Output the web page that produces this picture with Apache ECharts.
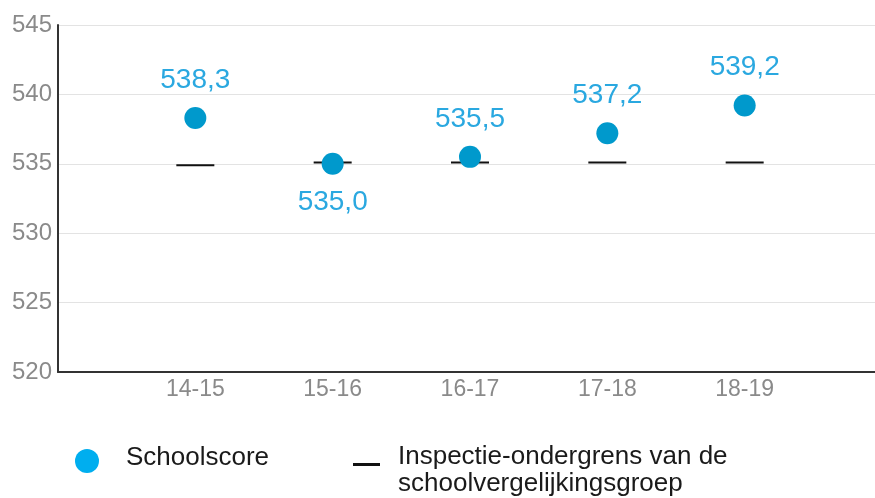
<!DOCTYPE html>
<html>
<head>
<meta charset="utf-8">
<script src="https://cdn.jsdelivr.net/npm/echarts@6/dist/echarts.min.js"></script>
<style>
html,body{margin:0;padding:0;background:#fff;}
#chart{width:875px;height:498px;}
</style>
</head>
<body>
<div id="chart"></div>
<script>
// Data
var categories = ['14-15', '15-16', '16-17', '17-18', '18-19'];
var schoolscore = [538.3, 535.0, 535.5, 537.2, 539.2];
var ondergrens = [534.9, 535.1, 535.1, 535.1, 535.1];
var yTicks = [520, 525, 530, 535, 540, 545];
var nameScore = 'Schoolscore';
var nameGrens = 'Inspectie-ondergrens van de schoolvergelijkingsgroep';

var axisData = [''].concat(categories).concat(['']);
var FONT = '"Liberation Sans", Arial, sans-serif';

function fmt(v) { return v.toFixed(1).replace('.', ','); }

var chart = echarts.init(document.getElementById('chart'), null, {renderer: 'canvas'});
var option = {
  animation: false,
  textStyle: {fontFamily: FONT},
  grid: {left: 58, top: 25, height: 347, width: 824, containLabel: false, outerBoundsMode: 'none'},
  xAxis: {
    type: 'category',
    data: axisData,
    boundaryGap: false,
    axisLine: {lineStyle: {color: '#333', width: 2}},
    axisTick: {show: false},
    axisLabel: {color: '#8a8a8a', fontSize: 23, margin: 6, fontFamily: FONT},
    splitLine: {show: false}
  },
  yAxis: {
    type: 'value',
    min: yTicks[0],
    max: yTicks[yTicks.length - 1],
    interval: yTicks[1] - yTicks[0],
    axisLine: {show: true, lineStyle: {color: '#333', width: 2}},
    axisTick: {show: false},
    axisLabel: {color: '#8a8a8a', fontSize: 24, margin: 6, fontFamily: FONT},
    splitLine: {lineStyle: {color: '#e3e3e3', width: 1}}
  },
  legend: [
    {
      left: 75, top: 445, padding: 0,
      selectedMode: false,
      icon: 'circle', itemWidth: 24, itemHeight: 24,
      data: [{name: nameScore, itemStyle: {color: '#00aeef', opacity: 1}}],
      formatter: function (n) { return '{a|' + n + '}\n{s| }'; },
      textStyle: {
        fontFamily: FONT, padding: [0, 0, 0, 22],
        rich: {
          a: {fontSize: 26, lineHeight: 26, color: '#1a1a1a', fontFamily: FONT},
          s: {fontSize: 1, lineHeight: 6}
        }
      }
    },
    {
      left: 353, top: 437, padding: 0,
      selectedMode: false,
      icon: 'rect', itemWidth: 27, itemHeight: 3,
      data: [{name: nameGrens, itemStyle: {color: '#111', opacity: 1}}],
      formatter: function (n) {
        var parts = n.split(' schoolvergelijkingsgroep');
        return '{s| }\n{a|' + parts[0] + '}\n{a|schoolvergelijkingsgroep}';
      },
      textStyle: {
        fontFamily: FONT, padding: [0, 0, 0, 13],
        rich: {
          a: {fontSize: 26, lineHeight: 27, color: '#1a1a1a', fontFamily: FONT},
          s: {fontSize: 1, lineHeight: 11}
        }
      }
    }
  ],
  series: [
    {
      name: nameGrens,
      type: 'scatter',
      symbol: 'rect',
      symbolSize: [38, 2],
      itemStyle: {color: '#111', opacity: 1},
      z: 2,
      data: categories.map(function (c, i) { return [c, ondergrens[i]]; })
    },
    {
      name: nameScore,
      type: 'scatter',
      symbol: 'circle',
      symbolSize: 22,
      itemStyle: {color: '#0099cc', opacity: 1},
      z: 3,
      data: categories.map(function (c, i) {
        var below = schoolscore[i] < ondergrens[i];
        return {
          value: [c, schoolscore[i]],
          label: {position: below ? 'bottom' : 'top'}
        };
      }),
      label: {
        show: true,
        color: '#2aa8e0',
        fontSize: 28,
        distance: 13,
        fontFamily: FONT,
        formatter: function (p) { return fmt(p.value[1]); }
      }
    }
  ]
};
chart.setOption(option);
</script>
</body>
</html>
